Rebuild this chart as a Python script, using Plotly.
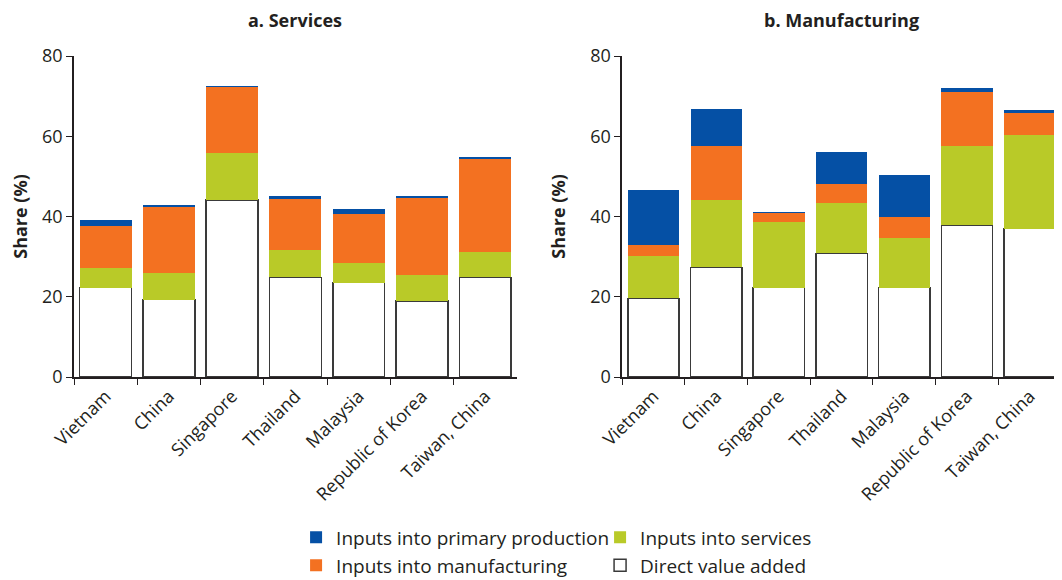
import plotly.graph_objects as go

countries = ["Vietnam", "China", "Singapore", "Thailand", "Malaysia", "Republic of Korea", "Taiwan, China"]

# Panel a. Services (share, %)
svc_direct = [22.3, 19.3, 44.1, 24.8, 23.5, 18.9, 24.8]
svc_services = [4.8, 6.7, 11.8, 6.9, 5.0, 6.6, 6.4]
svc_manufacturing = [10.6, 16.4, 16.4, 12.6, 12.2, 19.3, 23.2]
svc_primary = [1.4, 0.3, 0.2, 0.9, 1.1, 0.4, 0.3]

# Panel b. Manufacturing (share, %)
mfg_direct = [19.6, 27.3, 22.3, 30.8, 22.3, 37.8, 37.0]
mfg_services = [10.5, 16.8, 16.3, 12.5, 12.3, 19.8, 23.3]
mfg_manufacturing = [2.8, 13.5, 2.3, 4.8, 5.3, 13.5, 5.5]
mfg_primary = [13.7, 9.2, 0.2, 8.0, 10.4, 1.0, 0.8]

series_names = ["Direct value added", "Inputs into services", "Inputs into manufacturing", "Inputs into primary production"]
colors = ["#ffffff", "#b9ca28", "#f37121", "#0550a5"]
legend_ids = ["legend4", "legend2", "legend3", "legend"]

TXT = "#231f20"
FONT = "Open Sans"

fig = go.Figure()
panels = [
    ("x", "y", [svc_direct, svc_services, svc_manufacturing, svc_primary], True),
    ("x2", "y2", [mfg_direct, mfg_services, mfg_manufacturing, mfg_primary], False),
]
for xa, ya, vals, show in panels:
    for name, v, c, lg in zip(series_names, vals, colors, legend_ids):
        is_white = c == "#ffffff"
        fig.add_trace(go.Bar(
            x=countries, y=v, name=name, xaxis=xa, yaxis=ya,
            marker=dict(color=c, line=dict(color="#3a3a3a" if is_white else c, width=1.5 if is_white else 0)),
            width=0.82, showlegend=show, legend=lg,
        ))

axis_common = dict(showline=True, linecolor=TXT, linewidth=1.5, ticks="outside", automargin=False,
                   tickcolor=TXT, tickfont=dict(family=FONT, size=18, color=TXT))
x_common = dict(axis_common, tickson="boundaries", ticklen=6, tickangle=-45, showgrid=False,
                categoryorder="array", categoryarray=countries)
y_common = dict(axis_common, range=[0, 80], dtick=20, ticklen=6, showgrid=False, zeroline=False,
                title=dict(text="<b>Share (%)</b>", font=dict(family=FONT, size=18, color=TXT), standoff=20))

fig.update_layout(
    width=1054, height=572,
    barmode="stack",
    paper_bgcolor="white", plot_bgcolor="white",
    margin=dict(l=66, r=1, t=48, b=203, autoexpand=False),
    font=dict(family=FONT, size=18, color=TXT),
    xaxis=dict(x_common, domain=[0, 0.4487], anchor="y"),
    yaxis=dict(y_common, anchor="x"),
    xaxis2=dict(x_common, domain=[0.5554, 1], anchor="y2"),
    yaxis2=dict(y_common, anchor="x2"),
    annotations=[
        dict(text="<b>a. Services</b>", xref="paper", yref="paper", x=0.2243, y=1.112,
             xanchor="center", yanchor="middle", showarrow=False, font=dict(family=FONT, size=18, color=TXT)),
        dict(text="<b>b. Manufacturing</b>", xref="paper", yref="paper", x=0.7777, y=1.112,
             xanchor="center", yanchor="middle", showarrow=False, font=dict(family=FONT, size=18, color=TXT)),
    ],
)
leg_font = dict(family=FONT, size=19, color=TXT)
fig.update_layout(
    legend=dict(x=0.225, y=-0.4995, xanchor="left", yanchor="middle", font=leg_font, bgcolor="rgba(0,0,0,0)"),
    legend3=dict(x=0.225, y=-0.5866, xanchor="left", yanchor="middle", font=leg_font, bgcolor="rgba(0,0,0,0)"),
    legend2=dict(x=0.533, y=-0.4995, xanchor="left", yanchor="middle", font=leg_font, bgcolor="rgba(0,0,0,0)"),
    legend4=dict(x=0.533, y=-0.5866, xanchor="left", yanchor="middle", font=leg_font, bgcolor="rgba(0,0,0,0)"),
)

fig.write_html("out.html")
